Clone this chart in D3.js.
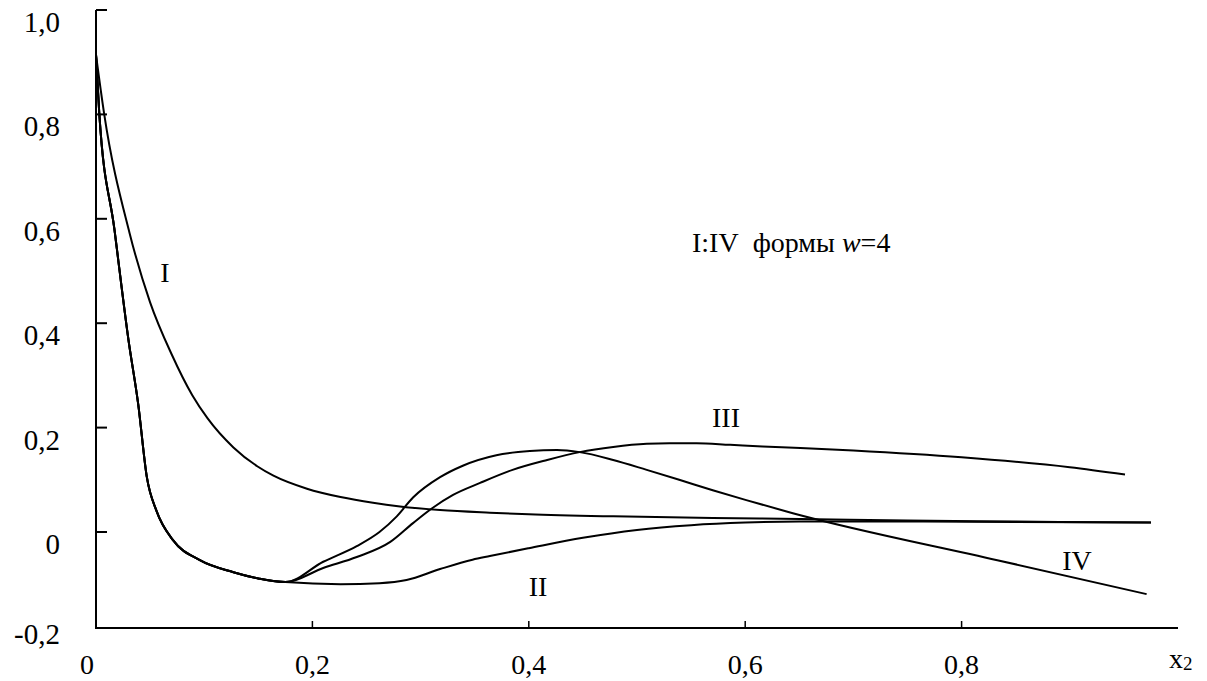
<!DOCTYPE html>
<html>
<head>
<meta charset="utf-8">
<script src="https://cdn.jsdelivr.net/npm/d3@7"></script>
<style>
  body { margin: 0; background: #fff; }
  text { font-family: "Liberation Serif", "Times New Roman", serif; fill: #000; }
</style>
</head>
<body>
<div id="chart"></div>
<script>
// curves, [x2, value]
var curveI = [[0,0.914],[0.0074,0.803],[0.031,0.573],[0.05,0.44],[0.07,0.34],[0.089,0.262],
  [0.103,0.218],[0.127,0.162],[0.149,0.126],[0.164,0.108],[0.195,0.083],[0.226,0.067],[0.256,0.056],
  [0.281,0.049],[0.318,0.042],[0.364,0.037],[0.4,0.034],[0.478,0.030],[0.57,0.027],[0.651,0.025],
  [0.75,0.022],[0.85,0.02],[0.975,0.018]];

// steep common start of II, III, IV
var steepStart = [[0,0.914],[0.003,0.803],[0.017,0.58],[0.030,0.368],[0.039,0.245],[0.047,0.105],
  [0.056,0.040],[0.071,-0.015],[0.096,-0.054],[0.127,-0.077],[0.150,-0.089],[0.175,-0.096]];

var curveII = [[0.226,-0.1],[0.262,-0.098],[0.287,-0.092],[0.318,-0.071],[0.348,-0.053],[0.364,-0.046],
  [0.4,-0.031],[0.45,-0.011],[0.5,0.004],[0.55,0.013],[0.6,0.018],[0.65,0.02],[0.75,0.02],[0.85,0.019],[0.975,0.018]];

var curveIII = [[0.21,-0.069],[0.241,-0.048],[0.272,-0.019],[0.293,0.017],[0.311,0.046],[0.330,0.071],
  [0.355,0.094],[0.385,0.119],[0.417,0.138],[0.447,0.153],[0.478,0.163],[0.509,0.169],[0.53,0.170],
  [0.555,0.170],[0.586,0.167],[0.616,0.164],[0.651,0.161],[0.7,0.156],[0.8,0.143],[0.9,0.124],[0.951,0.11]];

var curveIV = [[0.21,-0.057],[0.241,-0.027],[0.262,0],[0.278,0.03],[0.293,0.066],[0.318,0.105],
  [0.339,0.127],[0.37,0.147],[0.401,0.155],[0.426,0.157],[0.447,0.153],[0.478,0.138],[0.509,0.119],
  [0.539,0.100],[0.57,0.080],[0.601,0.061],[0.644,0.036],[0.833,-0.054],[0.971,-0.119]];

var yTicks = [1, 0.8, 0.6, 0.4, 0.2, 0];
var yTickLabels = ["1,0", "0,8", "0,6", "0,4", "0,2", "0"];
var xTicks = [0.2, 0.4, 0.6, 0.8];
var xTickLabels = ["0,2", "0,4", "0,6", "0,8"];

var width = 1207, height = 681;
var mLeft = 96, mRight = 1178, mTop = 10, mBottom = 628;

var svg = d3.select("#chart").append("svg")
  .attr("width", width)
  .attr("height", height);

var x = d3.scaleLinear().domain([0, 1]).range([mLeft, mRight]);
var y = d3.scaleLinear().domain([-0.2, 1]).range([636.4, mTop]);

// axes
svg.append("line").attr("x1", mLeft).attr("x2", mLeft).attr("y1", mTop).attr("y2", mBottom)
  .attr("stroke", "#000").attr("stroke-width", 2);
svg.append("line").attr("x1", mLeft - 1).attr("x2", mRight).attr("y1", mBottom).attr("y2", mBottom)
  .attr("stroke", "#000").attr("stroke-width", 2);

svg.selectAll(".ytick").data(yTicks).enter().append("line")
  .attr("x1", mLeft).attr("x2", mLeft + 11)
  .attr("y1", function (d) { return y(d); })
  .attr("y2", function (d) { return y(d); })
  .attr("stroke", "#000").attr("stroke-width", 2);

svg.selectAll(".ylab").data(yTicks).enter().append("text")
  .attr("x", 60)
  .attr("y", function (d) { return y(d) + 12; })
  .attr("dominant-baseline", "central")
  .attr("text-anchor", "end")
  .attr("font-size", 29)
  .text(function (d, i) { return yTickLabels[i]; });

svg.append("text").attr("x", 60).attr("y", mBottom + 6)
  .attr("dominant-baseline", "central").attr("text-anchor", "end")
  .attr("font-size", 29).text("-0,2");

svg.selectAll(".xtick").data(xTicks).enter().append("line")
  .attr("x1", function (d) { return x(d); })
  .attr("x2", function (d) { return x(d); })
  .attr("y1", mBottom).attr("y2", mBottom - 7)
  .attr("stroke", "#000").attr("stroke-width", 1.5);

svg.selectAll(".xlab").data(xTicks).enter().append("text")
  .attr("x", function (d) { return x(d); })
  .attr("y", 674)
  .attr("text-anchor", "middle")
  .attr("font-size", 28)
  .text(function (d, i) { return xTickLabels[i]; });

svg.append("text").attr("x", x(0) - 9).attr("y", 674)
  .attr("text-anchor", "middle").attr("font-size", 28).text("0");

var xl = svg.append("text").attr("x", 1169).attr("y", 668).attr("font-size", 28);
xl.append("tspan").text("x");
xl.append("tspan").attr("font-size", 19).attr("dy", 2).text("2");

// curves
var line = d3.line()
  .x(function (d) { return x(d[0]); })
  .y(function (d) { return y(d[1]); })
  .curve(d3.curveMonotoneX);

var series = [curveI, steepStart.concat(curveII), steepStart.concat(curveIII), steepStart.concat(curveIV)];

svg.append("g").selectAll("path").data(series).enter().append("path")
  .attr("d", line)
  .attr("fill", "none")
  .attr("stroke", "#000")
  .attr("stroke-width", 2);

// curve labels
var labels = [
  { t: "I", x: 165, y: 282 },
  { t: "II", x: 538, y: 596 },
  { t: "III", x: 726, y: 427 },
  { t: "IV", x: 1077, y: 570 }
];
svg.selectAll(".clab").data(labels).enter().append("text")
  .attr("x", function (d) { return d.x; })
  .attr("y", function (d) { return d.y; })
  .attr("text-anchor", "middle")
  .attr("font-size", 28)
  .text(function (d) { return d.t; });

var note = svg.append("text").attr("x", 692).attr("y", 252).attr("font-size", 28);
note.append("tspan").text("I:IV\u00a0\u00a0формы ");
note.append("tspan").attr("font-style", "italic").text("w");
note.append("tspan").text("=4");
</script>
</body>
</html>
